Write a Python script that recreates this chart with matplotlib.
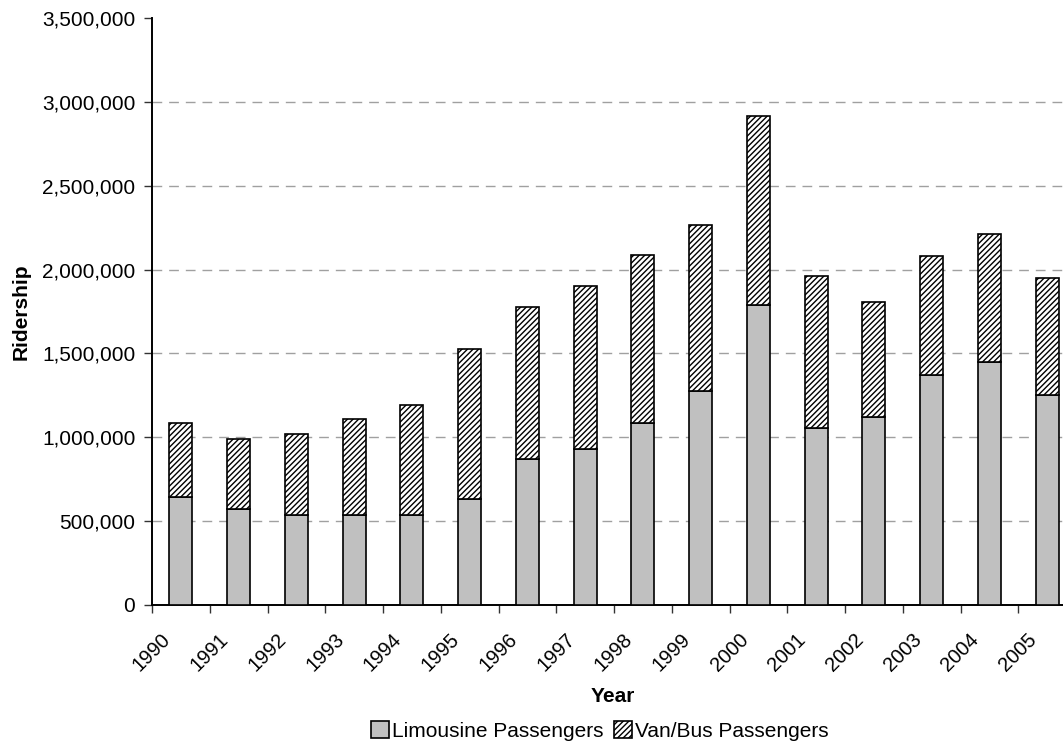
import numpy as np
import matplotlib.pyplot as plt
import matplotlib.transforms as mtransforms
from matplotlib.ticker import FuncFormatter, FixedLocator

plt.rcParams["font.family"] = ["Liberation Sans", "DejaVu Sans"]
plt.rcParams["hatch.linewidth"] = 1.0
plt.rcParams["hatch.color"] = "#555555"

years = [str(y) for y in range(1990, 2006)]
limousine = [645000, 574000, 536000, 534000, 534000, 635000, 870000, 930000,
             1084000, 1276000, 1791000, 1057000, 1123000, 1373000, 1449000, 1250000]
total = [1085000, 992000, 1018000, 1110000, 1194000, 1528000, 1775000, 1901000,
         2086000, 2264000, 2917000, 1961000, 1805000, 2080000, 2210000, 1951000]
van_bus = [t - l for t, l in zip(total, limousine)]
y_ticks = np.arange(0, 3500001, 500000)

fig = plt.figure(figsize=(10.63, 7.44), dpi=100)
# plot area runs a little past the right edge of the image
ax = fig.add_axes([152 / 1063, 1 - 605 / 744, 924 / 1063, 587 / 744])

x = np.arange(len(years))
ax.bar(x, limousine, width=0.4, color="#c0c0c0", edgecolor="black",
       linewidth=1.2, label="Limousine Passengers", zorder=3)
ax.bar(x, van_bus, width=0.4, bottom=limousine, color="white", edgecolor="black",
       hatch="//////", linewidth=1.2, label="Van/Bus Passengers", zorder=3)

ax.set_xlim(-0.5, len(years) - 0.5)
ax.set_ylim(0, 3500000)
ax.set_yticks(y_ticks)
ax.yaxis.set_major_formatter(FuncFormatter(lambda v, p: f"{int(v):,}"))
for v in y_ticks[1:-1]:
    ax.axhline(v, linestyle=(0, (7, 5)), color="#a0a0a0", linewidth=1.0, zorder=0)

# labels sit under the bars, tick marks sit between them
ax.set_xticks(x)
ax.set_xticklabels(years, rotation=45, ha="right", rotation_mode="anchor")
ax.tick_params(axis="x", which="major", length=0, pad=18, labelsize=14.5)
shift = mtransforms.ScaledTranslation(-0.2, 0, fig.dpi_scale_trans)
for lbl in ax.get_xticklabels():
    lbl.set_transform(lbl.get_transform() + shift)
ax.xaxis.set_minor_locator(FixedLocator(np.arange(-0.5, len(years), 1.0)))
ax.tick_params(axis="x", which="minor", length=6, width=1.0, color="#333333")
ax.tick_params(axis="y", length=6, width=1.0, labelsize=15, pad=6, color="#333333")

for side in ("top", "right"):
    ax.spines[side].set_visible(False)
for side in ("left", "bottom"):
    ax.spines[side].set_linewidth(1.4)

ax.set_ylabel("Ridership", fontsize=15, fontweight="bold", va="center")
ax.yaxis.set_label_coords(-0.1418, 0.499)
ax.set_xlabel("Year", fontsize=15, fontweight="bold", va="center")
ax.xaxis.set_label_coords(0.499, -0.1567)

fig.legend(loc="center", bbox_to_anchor=(600 / 1063, 1 - 731 / 744), ncol=2,
           frameon=False, fontsize=15, handlelength=0.85, handleheight=0.85,
           handletextpad=0.15, columnspacing=0.5)

fig.savefig("out.png", dpi=100)
